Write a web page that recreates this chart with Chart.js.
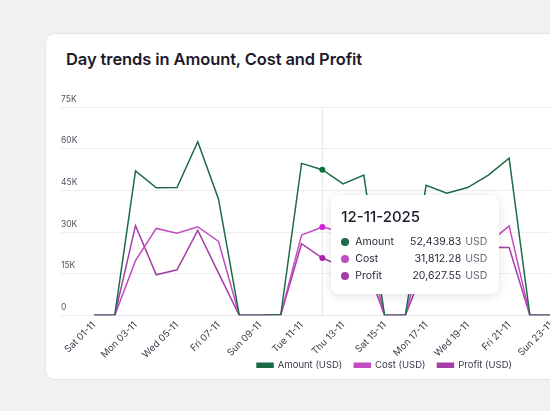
<!DOCTYPE html>
<html>
<head>
<meta charset="utf-8">
<script src="https://cdn.jsdelivr.net/npm/chart.js@4.4.1/dist/chart.umd.min.js"></script>
<style>
  html, body { margin: 0; padding: 0; width: 550px; height: 411px; overflow: hidden; background: #f1f1f4; font-family: Inter, "Noto Sans", sans-serif; }
  .card { position: absolute; left: 45px; top: 33px; width: 680px; height: 345px; background: #fff; border: 1px solid #e4e4ea; border-radius: 10px; }
  .title { position: absolute; left: 20px; top: 15px; font-size: 16.5px; font-weight: 600; color: #1d1a2c; letter-spacing: -0.1px; }
  .wrap { position: absolute; left: 0; top: 52px; width: 662px; height: 310px; }
  #tip { position: absolute; width: 146px; background: #fff; border-radius: 8px; box-shadow: 0 2px 10px rgba(0,0,0,0.12); padding: 12px 12px 10px 10px; font-size: 10.5px; color: #2a2838; pointer-events: none; white-space: nowrap; }
  #tip .t { font-size: 15px; font-weight: 500; margin-bottom: 7px; color: #1d1a2c; }
  #tip table { width: 100%; }
  #tip td { padding: 2px 0; }
  #tip .v { text-align: right; padding-left: 16px; }
  #tip .u { color: #6b6a78; padding-left: 4px; width: 1px; }
  #tip .dot { display: inline-block; width: 8px; height: 8px; border-radius: 50%; margin-right: 6px; vertical-align: -1px; }
</style>
</head>
<body>
<div class="card">
  <div class="title">Day trends in Amount, Cost and Profit</div>
  <div class="wrap"><canvas id="grafico"></canvas></div>
</div>
<div id="tip"></div>
<script>
// giorni (novembre 2025)
const giorni = ['Sat 01-11','Sun 02-11','Mon 03-11','Tue 04-11','Wed 05-11','Thu 06-11','Fri 07-11','Sat 08-11','Sun 09-11','Mon 10-11',
  'Tue 11-11','Wed 12-11','Thu 13-11','Fri 14-11','Sat 15-11','Sun 16-11','Mon 17-11','Tue 18-11','Wed 19-11','Thu 20-11',
  'Fri 21-11','Sat 22-11','Sun 23-11','Mon 24-11','Tue 25-11','Wed 26-11','Thu 27-11','Fri 28-11','Sat 29-11','Sun 30-11'];
const dateTooltip = giorni.map(g => g.slice(4) + '-2025');

const amount = [0,0,52000,45900,46000,62500,41800,0,0,300,54700,52439.83,47300,50500,0,0,46800,44000,46000,50500,56600,0,0,48000,50000,45000,55000,40000,0,0];
const cost   = [0,0,19700,31300,29600,31900,26600,0,0,200,28900,31812.28,29900,30000,0,0,28000,27000,28000,26000,32200,0,0,29000,30000,27000,32000,24000,0,0];
const profit = [0,0,32300,14600,16400,30600,15200,0,0,100,25800,20627.55,17400,20500,0,0,18800,17000,18000,24500,24400,0,0,19000,20000,18000,23000,16000,0,0];

const yTicks = [0, 15000, 30000, 45000, 60000, 75000];
const activeIndex = 11;

const colori = { amount: '#1d6b46', cost: '#c24cc2', profit: '#a23fa6' };

function fmt(v) {
  return v.toLocaleString('en-US', { minimumFractionDigits: 2, maximumFractionDigits: 2 });
}

// tooltip HTML esterno
function tooltipEsterno(context) {
  const tip = document.getElementById('tip');
  const t = context.tooltip;
  if (t.opacity === 0) { tip.style.display = 'none'; return; }
  const i = t.dataPoints[0].dataIndex;
  let html = '<div class="t">' + dateTooltip[i] + '</div><table cellspacing="0">';
  t.dataPoints.forEach(p => {
    html += '<tr><td><span class="dot" style="background:' + p.dataset.borderColor + '"></span>' + p.dataset.nome +
      '</td><td class="v">' + fmt(p.raw) + '</td><td class="u">USD</td></tr>';
  });
  html += '</table>';
  tip.innerHTML = html;
  tip.style.display = 'block';
  const r = context.chart.canvas.getBoundingClientRect();
  tip.style.left = (r.left + t.caretX + 9) + 'px';
  tip.style.top = '195px';
}

// linea verticale sul punto attivo + legenda piu' vicina all'asse
const lineaVerticale = {
  id: 'lineaVerticale',
  afterLayout(chart) {
    chart.legend.top -= 16;
    chart.legend.bottom -= 16;
  },
  beforeDatasetsDraw(chart) {
    const a = chart.getActiveElements();
    if (!a.length) return;
    const x = a[0].element.x;
    const ctx = chart.ctx;
    ctx.save();
    ctx.strokeStyle = '#e6e6ea';
    ctx.lineWidth = 1;
    ctx.beginPath();
    ctx.moveTo(x, chart.chartArea.top);
    ctx.lineTo(x, chart.chartArea.bottom);
    ctx.stroke();
    ctx.restore();
  }
};

function serie(nome, dati, colore) {
  return {
    label: nome + ' (USD)', nome: nome, data: dati,
    borderColor: colore, backgroundColor: colore,
    borderWidth: 1.5, pointRadius: 0, pointHoverRadius: 3, pointHoverBorderWidth: 0,
    tension: 0
  };
}

const grafico = new Chart(document.getElementById('grafico'), {
  type: 'line',
  data: {
    labels: giorni,
    datasets: [serie('Amount', amount, colori.amount), serie('Cost', cost, colori.cost), serie('Profit', profit, colori.profit)]
  },
  options: {
    responsive: true,
    maintainAspectRatio: false,
    animation: false,
    layout: { padding: { left: 15, right: 0, top: 21, bottom: 0 } },
    interaction: { mode: 'index', intersect: false },
    plugins: {
      legend: {
        position: 'bottom', align: 'center',
        labels: { boxWidth: 16, boxHeight: 4, font: { size: 9.5, family: 'Inter' }, color: '#3a3948', padding: 12 }
      },
      tooltip: { enabled: false, external: tooltipEsterno }
    },
    scales: {
      x: {
        grid: { display: false, drawTicks: false },
        border: { color: '#e6e6ea' },
        ticks: {
          autoSkip: false, maxRotation: 45, minRotation: 45, padding: 4,
          font: { size: 9.5, family: 'Inter' }, color: '#3a3948',
          callback: (v, i) => i % 2 === 0 ? giorni[i] : ''
        }
      },
      y: {
        min: 0, max: 75000,
        afterBuildTicks: s => { s.ticks = yTicks.map(v => ({ value: v })); },
        afterFit: s => { s.width = 33; },
        border: { display: false },
        grid: { color: '#eeeef1', tickLength: 33, drawTicks: true },
        ticks: {
          crossAlign: 'far', padding: -33, labelOffset: -8,
          font: { size: 8.5, family: 'Inter' }, color: '#55545f',
          callback: v => v === 0 ? '0' : (v / 1000) + 'K'
        }
      }
    }
  },
  plugins: [lineaVerticale]
});

const attivi = grafico.data.datasets.map((d, i) => ({ datasetIndex: i, index: activeIndex }));
grafico.setActiveElements(attivi);
grafico.tooltip.setActiveElements(attivi, { x: 0, y: 0 });
grafico.update();
</script>
</body>
</html>
